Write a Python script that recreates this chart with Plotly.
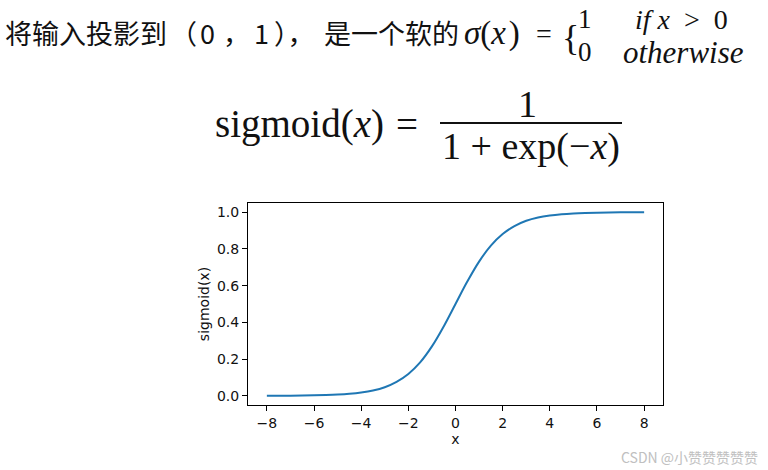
import plotly.graph_objects as go

# values
x_vals = [-8.0, -7.5, -7.0, -6.5, -6.0, -5.5, -5.0, -4.5, -4.0, -3.5, -3.0, -2.5, -2.0,
          -1.5, -1.0, -0.5, 0.0, 0.5, 1.0, 1.5, 2.0, 2.5, 3.0, 3.5, 4.0, 4.5, 5.0,
          5.5, 6.0, 6.5, 7.0, 7.5, 8.0]
y_vals = [0.0003, 0.0006, 0.0009, 0.0015, 0.0025, 0.0041, 0.0067, 0.011, 0.018, 0.029,
          0.047, 0.076, 0.119, 0.182, 0.269, 0.378, 0.5, 0.622, 0.731, 0.818, 0.881,
          0.924, 0.953, 0.971, 0.982, 0.989, 0.9933, 0.9959, 0.9975, 0.9985, 0.9991,
          0.9994, 0.9997]
x_ticks = [-8, -6, -4, -2, 0, 2, 4, 6, 8]
y_ticks = [0.0, 0.2, 0.4, 0.6, 0.8, 1.0]

W, H = 768, 470
# plot frame in window pixels: x 248..663, y 203..405
L, T = 248, 203
R, B = W - 663, H - 405
PW, PH = W - L - R, H - T - B

fig = go.Figure()
fig.add_trace(go.Scatter(x=x_vals, y=y_vals, mode="lines",
                         line=dict(color="#1f77b4", width=2, shape="spline"),
                         showlegend=False, hoverinfo="skip"))

tick_font = dict(family="DejaVu Sans", size=14, color="#111")
axis_common = dict(showline=True, linecolor="black", linewidth=1, mirror=True,
                   ticks="outside", ticklen=5, tickwidth=1, tickcolor="black",
                   showgrid=False, zeroline=False, tickfont=tick_font)
fig.update_xaxes(range=[-8.8, 8.8], tickvals=x_ticks,
                 title=dict(text="x", font=dict(family="DejaVu Sans", size=14, color="#111"), standoff=3),
                 **axis_common)
fig.update_yaxes(range=[-0.05, 1.05], tickvals=y_ticks, tickformat=".1f",
                 title=dict(text="sigmoid(x)", font=dict(family="DejaVu Sans", size=14, color="#111"), standoff=4),
                 **axis_common)


def px(x):
    return (x - L) / PW


def py(y):
    return (H - B - y) / PH


def ann(text, x, y, size, family, xanchor="left", color="#111"):
    fig.add_annotation(x=px(x), y=py(y), xref="paper", yref="paper", text=text,
                       showarrow=False, xanchor=xanchor, yanchor="middle",
                       font=dict(family=family, size=size, color=color))


cjk = "Noto Sans CJK SC"
serif = "Liberation Serif"
ann("将输入投影到", 3, 33, 27, cjk)
ann("（", 168, 33, 27, cjk)
ann("0", 198, 33, 27, cjk)
ann("，", 221, 33, 27, cjk)
ann("1", 252, 33, 27, cjk)
ann("），", 272, 33, 27, cjk)
ann("是一个软的", 322, 33, 27, cjk)
ann("<i>σ</i>(<i>x</i>&#8202;)", 462, 34, 33, serif)
ann("=", 544, 34, 28, serif, xanchor="center")
ann("{", 560, 38, 36, serif)
ann("1", 576, 19, 27, serif)
ann("0", 576, 52, 27, serif)
ann("<i>if</i>&nbsp;<i>x</i>&nbsp;&nbsp;&gt;&nbsp;&nbsp;0", 633, 19, 28, serif)
ann("<i>otherwise</i>", 621, 52, 31, serif)

ann("sigmoid(<i>x</i>)", 213, 124, 39, serif)
ann("=", 407, 124, 39, serif, xanchor="center")
ann("1", 527, 104, 38, serif, xanchor="center")
ann("1 + exp(−<i>x</i>)", 531, 146, 38, serif, xanchor="center")
fig.add_shape(type="line", xref="paper", yref="paper",
              x0=px(440), x1=px(622), y0=py(123), y1=py(123),
              line=dict(color="#111", width=2))

ann("CSDN @小赞赞赞赞赞", 619, 457, 14, cjk, color="#c0c0c0")

fig.update_layout(width=W, height=H, margin=dict(l=L, r=R, t=T, b=B),
                  paper_bgcolor="white", plot_bgcolor="white")
fig.write_html("out.html", config={"displayModeBar": False},
               post_script="document.body.style.margin='0';document.body.style.overflow='hidden';")
